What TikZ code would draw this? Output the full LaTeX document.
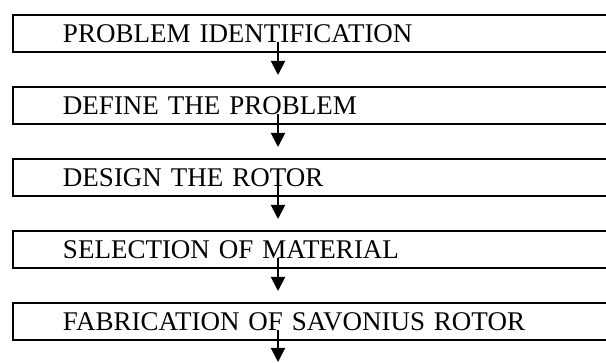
\documentclass[tikz,border=0pt]{standalone}
\usepackage{fontspec}
\setmainfont{Liberation Serif}
\usetikzlibrary{calc,arrows.meta}
\begin{document}
\begin{tikzpicture}[x=1pt,y=1pt,
  stepbox/.style={draw, line width=2pt, anchor=north west, minimum height=37pt,
    text width=520pt, inner xsep=50pt, inner ysep=0pt, align=left,
    font=\fontsize{27}{30}\selectfont},
  flow/.style={line width=2pt, -{Triangle[width=14pt,length=14pt]}}]
\useasboundingbox (0,0) rectangle (606,363);
\clip (0,0) rectangle (606,363);
\node[stepbox] (b1) at (12,349) {PROBLEM IDENTIFICATION};
\node[stepbox] (b2) at (12,277) {DEFINE THE PROBLEM};
\node[stepbox] (b3) at (12,205) {DESIGN THE ROTOR};
\node[stepbox] (b4) at (12,133) {SELECTION OF MATERIAL};
\node[stepbox] (b5) at (12,61)  {FABRICATION OF SAVONIUS ROTOR};
\coordinate (end) at (278,1);
\draw[flow] ($(b1.south west)+(266,11)$) -- ($(b2.north west)+(266,11)$);
\draw[flow] ($(b2.south west)+(266,11)$) -- ($(b3.north west)+(266,11)$);
\draw[flow] ($(b3.south west)+(266,11)$) -- ($(b4.north west)+(266,11)$);
\draw[flow] ($(b4.south west)+(266,11)$) -- ($(b5.north west)+(266,11)$);
\draw[flow] ($(b5.south west)+(266,11)$) -- (end);
\end{tikzpicture}
\end{document}
